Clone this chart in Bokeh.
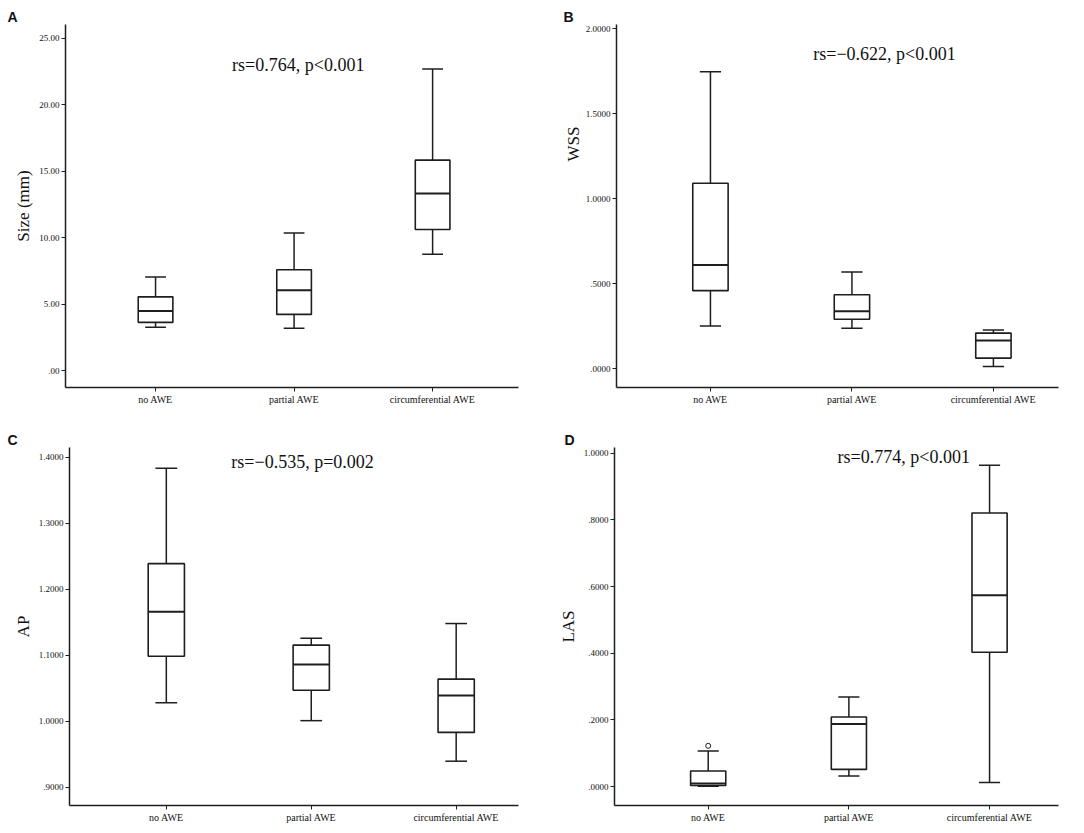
from bokeh.plotting import figure
from bokeh.models import Range1d, FixedTicker, Label, Title
from bokeh.layouts import column, row
from bokeh.embed import file_html
from bokeh.resources import INLINE

categories = ["no AWE", "partial AWE", "circumferential AWE"]
cat_pos = [0, 1, 2]

# Panel A: Size (mm)
size_whislo = [3.26, 3.18, 8.75]
size_q1 = [3.63, 4.23, 10.62]
size_med = [4.48, 6.04, 13.33]
size_q3 = [5.55, 7.59, 15.84]
size_whishi = [7.04, 10.35, 22.70]
size_ticks = [0, 5, 10, 15, 20, 25]
size_tick_labels = [".00", "5.00", "10.00", "15.00", "20.00", "25.00"]

# Panel B: WSS
wss_whislo = [0.252, 0.239, 0.014]
wss_q1 = [0.460, 0.292, 0.063]
wss_med = [0.611, 0.339, 0.166]
wss_q3 = [1.092, 0.436, 0.210]
wss_whishi = [1.748, 0.570, 0.229]
wss_ticks = [0.0, 0.5, 1.0, 1.5, 2.0]
wss_tick_labels = [".0000", ".5000", "1.0000", "1.5000", "2.0000"]

# Panel C: AP
ap_whislo = [1.028, 1.0007, 0.9392]
ap_q1 = [1.0984, 1.0468, 0.9829]
ap_med = [1.1659, 1.0860, 1.0389]
ap_q3 = [1.2388, 1.1153, 1.0637]
ap_whishi = [1.3836, 1.1257, 1.1480]
ap_ticks = [0.9, 1.0, 1.1, 1.2, 1.3, 1.4]
ap_tick_labels = [".9000", "1.0000", "1.1000", "1.2000", "1.3000", "1.4000"]

# Panel D: LAS
las_whislo = [0.001, 0.0316, 0.0118]
las_q1 = [0.003, 0.0513, 0.4028]
las_med = [0.0089, 0.1876, 0.5735]
las_q3 = [0.0464, 0.2083, 0.8203]
las_whishi = [0.1066, 0.2685, 0.9635]
las_ticks = [0.0, 0.2, 0.4, 0.6, 0.8, 1.0]
las_tick_labels = [".0000", ".2000", ".4000", ".6000", ".8000", "1.0000"]
las_outlier_x = [0]
las_outlier_y = [0.122]

notes = ["rs=0.764, p<0.001", "rs=\u22120.622, p<0.001",
         "rs=\u22120.535, p=0.002", "rs=0.774, p<0.001"]
letters = ["A", "B", "C", "D"]
ylabels = ["Size (mm)", "WSS", "AP", "LAS"]

SERIF = "Liberation Serif"
SANS = "Liberation Sans"
INK = "#1e1e1e"
BOX_W = 0.25
CAP_W = 0.15


def panel(w, h, borders, xr, yr, ticks, tick_labels, ylabel,
          lo, q1, med, q3, hi, note, note_xy, letter, letter_dx,
          ylabel_top=None):
    top, right, bottom, left = borders
    p = figure(width=w, height=h, output_backend="svg", toolbar_location=None,
               x_range=Range1d(*xr), y_range=Range1d(*yr),
               min_border_top=top, min_border_right=right,
               min_border_bottom=bottom, min_border_left=left,
               tools="")
    p.outline_line_color = None
    p.grid.visible = False
    p.background_fill_color = "white"
    p.border_fill_color = "white"

    for ax in (p.xaxis, p.yaxis):
        ax.axis_line_color = INK
        ax.axis_line_width = 1.5
        ax.major_tick_line_color = INK
        ax.major_tick_line_width = 1
        ax.major_tick_out = 4
        ax.major_tick_in = 0
        ax.minor_tick_line_color = None
        ax.major_label_standoff = 2
        ax.major_label_text_font = SERIF
        ax.major_label_text_color = "#111111"

    p.xaxis.ticker = FixedTicker(ticks=cat_pos)
    p.xaxis.major_label_overrides = {c: n for c, n in zip(cat_pos, categories)}
    p.xaxis.major_label_text_font_size = "10px"

    p.yaxis.ticker = FixedTicker(ticks=ticks)
    p.yaxis.major_label_overrides = {t: s for t, s in zip(ticks, tick_labels)}
    p.yaxis.major_label_text_font_size = "9px"
    if ylabel_top is None:
        p.yaxis.axis_label = ylabel
        p.yaxis.axis_label_text_font = SERIF
        p.yaxis.axis_label_text_font_style = "normal"
        p.yaxis.axis_label_text_font_size = "17px"
        p.yaxis.axis_label_text_color = "#111111"
        p.yaxis.axis_label_standoff = 3
    else:
        p.add_layout(Title(text=ylabel, align="right", offset=ylabel_top,
                           standoff=0, text_font=SERIF, text_font_style="normal",
                           text_font_size="17px", text_color="#111111"), "left")

    # whiskers
    p.segment(x0=cat_pos, y0=lo, x1=cat_pos, y1=q1, line_color=INK, line_width=1.5)
    p.segment(x0=cat_pos, y0=q3, x1=cat_pos, y1=hi, line_color=INK, line_width=1.5)
    # caps
    p.segment(x0=[c - CAP_W / 2 for c in cat_pos], y0=lo,
              x1=[c + CAP_W / 2 for c in cat_pos], y1=lo, line_color=INK, line_width=1.5)
    p.segment(x0=[c - CAP_W / 2 for c in cat_pos], y0=hi,
              x1=[c + CAP_W / 2 for c in cat_pos], y1=hi, line_color=INK, line_width=1.5)
    # boxes
    p.quad(left=[c - BOX_W / 2 for c in cat_pos], right=[c + BOX_W / 2 for c in cat_pos],
           bottom=q1, top=q3, fill_color="white", line_color=INK, line_width=1.6)
    # medians
    p.segment(x0=[c - BOX_W / 2 for c in cat_pos], y0=med,
              x1=[c + BOX_W / 2 for c in cat_pos], y1=med, line_color=INK, line_width=2)

    p.add_layout(Label(x=note_xy[0], y=note_xy[1], text=note, text_font=SERIF,
                       text_font_size="18px", text_align="center",
                       text_baseline="middle", text_color="#111111"))

    p.add_layout(Title(text=letter, align="left", offset=letter_dx, standoff=0,
                       text_font=SANS, text_font_style="bold",
                       text_font_size="14px", text_color="#111111"), "above")
    return p


pA = panel(542, 407, (22, 24, 19, 65), (-0.65, 2.62), (-1.27, 26.04),
           size_ticks, size_tick_labels, ylabels[0],
           size_whislo, size_q1, size_med, size_q3, size_whishi,
           notes[0], (1.03, 23.0), letters[0], -58)
pB = panel(540, 407, (24, 24, 19, 74), (-0.664, 2.46), (-0.110, 2.026),
           wss_ticks, wss_tick_labels, ylabels[1],
           wss_whislo, wss_q1, wss_med, wss_q3, wss_whishi,
           notes[1], (1.23, 1.855), letters[1], -53, ylabel_top=102)
pC = panel(542, 424, (40, 24, 20, 69), (-0.668, 2.43), (0.872, 1.415),
           ap_ticks, ap_tick_labels, ylabels[2],
           ap_whislo, ap_q1, ap_med, ap_q3, ap_whishi,
           notes[2], (0.94, 1.3926), letters[2], -62)
pD = panel(540, 424, (36, 24, 26, 72), (-0.666, 2.49), (-0.057, 1.017),
           las_ticks, las_tick_labels, ylabels[3],
           las_whislo, las_q1, las_med, las_q3, las_whishi,
           notes[3], (1.39, 0.988), letters[3], -50)
pD.scatter(x=las_outlier_x, y=las_outlier_y, marker="circle", size=5,
           fill_color="white", line_color=INK, line_width=1)

layout = column(row(pA, pB), row(pC, pD))
open("out.html", "w").write(file_html(layout, INLINE))
